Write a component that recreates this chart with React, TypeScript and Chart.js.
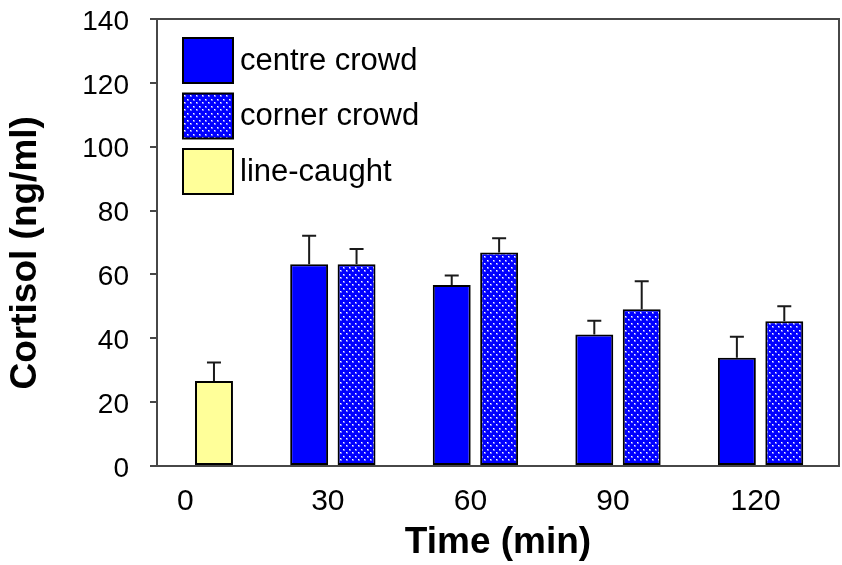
import { useEffect, useRef } from 'react';
import { Chart, registerables } from 'chart.js';

Chart.register(...registerables);

// Sampling times (min) and cortisol means / SEM (ng/ml)
const timePoints = [0, 30, 60, 90, 120];
const centreMean = [null, 63.2, 56.7, 41.2, 33.9];
const centreSem = [null, 8.9, 3.0, 4.3, 6.6];
const cornerMean = [null, 63.2, 66.9, 49.1, 45.3];
const cornerSem = [null, 4.8, 4.4, 8.8, 4.7];
const lineCaughtMean = [26.6, null, null, null, null];
const lineCaughtSem = [5.8, null, null, null, null];

const seriesLabels = ['centre crowd', 'corner crowd', 'line-caught'];

const FONT = '"Liberation Sans", Arial, Helvetica, sans-serif';
const AXIS = '#474747';

type Pt = { x: number; y: number; sem: number };

const toPoints = (mean: (number | null)[], sem: (number | null)[]): Pt[] =>
  timePoints
    .map((t, i) => ({ x: t, y: mean[i] as number, sem: sem[i] as number }))
    .filter((p) => p.y !== null && p.y !== undefined);

// Blue fill with a staggered grid of small white dots
const makeDots = (): CanvasPattern | string => {
  const c = document.createElement('canvas');
  c.width = 6;
  c.height = 7;
  const g = c.getContext('2d');
  if (!g) return '#0000ff';
  g.fillStyle = '#0000ff';
  g.fillRect(0, 0, 6, 7);
  g.fillStyle = 'rgba(255,255,255,0.45)';
  g.fillRect(1, 1, 2, 2);
  g.fillRect(4, 4, 2, 2);
  g.fillStyle = '#ffffff';
  g.fillRect(1, 1, 1, 1);
  g.fillRect(4, 4, 1, 1);
  return g.createPattern(c, 'repeat') || '#0000ff';
};

// Upper SEM whiskers with a cap
const errorBars = {
  id: 'errorBars',
  afterDatasetsDraw(chart: any) {
    const { ctx } = chart;
    const y = chart.scales.y;
    ctx.save();
    ctx.strokeStyle = '#1a1a1a';
    ctx.lineWidth = 2;
    chart.data.datasets.forEach((ds: any, d: number) => {
      const meta = chart.getDatasetMeta(d);
      meta.data.forEach((bar: any, i: number) => {
        const p = ds.data[i] as Pt;
        if (p == null || p.sem == null) return;
        const top = y.getPixelForValue(p.y + p.sem);
        ctx.beginPath();
        ctx.moveTo(bar.x, bar.y);
        ctx.lineTo(bar.x, top);
        ctx.moveTo(bar.x - 7, top);
        ctx.lineTo(bar.x + 7, top);
        ctx.stroke();
      });
    });
    ctx.restore();
  },
};

// Boxed legend in the upper-left corner of the plot
const boxLegend = {
  id: 'boxLegend',
  afterDraw(chart: any) {
    const { ctx, chartArea } = chart;
    const x0 = chartArea.left + 26;
    const y0 = chartArea.top + 19;
    ctx.save();
    ctx.font = `31px ${FONT}`;
    ctx.textBaseline = 'middle';
    ctx.textAlign = 'left';
    chart.data.datasets.forEach((ds: any, i: number) => {
      const top = y0 + i * 55.5;
      ctx.fillStyle = ds.backgroundColor;
      ctx.fillRect(x0, top, 50, 45);
      ctx.lineWidth = 2;
      ctx.strokeStyle = '#000';
      ctx.strokeRect(x0, top, 50, 45);
      ctx.fillStyle = '#000';
      ctx.fillText(ds.label, x0 + 57, top + 23);
    });
    ctx.restore();
  },
};

export default function App() {
  const canvasRef = useRef<HTMLCanvasElement | null>(null);

  useEffect(() => {
    const canvas = canvasRef.current;
    if (!canvas) return;
    const dots = makeDots();

    const chart = new Chart(canvas, {
      type: 'bar',
      data: {
        datasets: [
          {
            label: seriesLabels[0],
            data: toPoints(centreMean, centreSem) as any,
            backgroundColor: '#0000ff',
            stack: 'centre',
          },
          {
            label: seriesLabels[1],
            data: toPoints(cornerMean, cornerSem) as any,
            backgroundColor: dots as any,
            stack: 'corner',
          },
          {
            label: seriesLabels[2],
            data: toPoints(lineCaughtMean, lineCaughtSem) as any,
            backgroundColor: '#ffff99',
            stack: 'corner',
          },
        ],
      },
      options: {
        responsive: false,
        animation: false,
        layout: { padding: { top: 19, right: 3, left: 0, bottom: 0 } },
        datasets: {
          bar: {
            borderColor: '#000',
            borderWidth: 2,
            borderSkipped: false,
            categoryPercentage: 0.665,
            barPercentage: 0.8,
          },
        },
        plugins: {
          legend: { display: false },
          tooltip: { enabled: false },
        },
        scales: {
          x: {
            type: 'linear',
            stacked: true,
            offset: false,
            min: -7,
            max: 136.5,
            afterBuildTicks: (s: any) => {
              s.ticks = timePoints.map((v) => ({ value: v }));
            },
            afterFit: (s: any) => {
              s.height = 99;
              s.paddingLeft = 0;
              s.paddingRight = 0;
            },
            grid: { display: false, drawTicks: false },
            border: { display: true, color: AXIS, width: 2 },
            ticks: {
              color: '#000',
              font: { family: FONT, size: 30 },
              padding: 18,
              labelOffset: -5,
              maxRotation: 0,
              autoSkip: false,
              callback: (v: any) => String(v),
            },
            title: {
              display: true,
              text: 'Time (min)',
              color: '#000',
              font: { family: FONT, size: 37, weight: 'bold' },
              padding: { top: 0, bottom: 0 },
            },
          },
          y: {
            min: 0,
            max: 140,
            stacked: false,
            ticks: {
              stepSize: 20,
              color: '#000',
              font: { family: FONT, size: 28 },
              padding: 21,
              labelOffset: 3,
            },
            grid: {
              color: (c: any) => (c.tick && c.tick.value === 140 ? AXIS : 'rgba(0,0,0,0)'),
              lineWidth: 2,
              tickColor: AXIS,
              tickLength: 7,
              tickWidth: 2,
            },
            border: { display: true, color: AXIS, width: 2 },
            afterFit: (s: any) => {
              s.width = 157;
              s.paddingTop = 0;
              s.paddingBottom = 0;
            },
            title: {
              display: true,
              text: 'Cortisol (ng/ml)  ',
              color: '#000',
              font: { family: FONT, size: 37, weight: 'bold' },
              padding: { top: 4, bottom: 0 },
            },
          },
          yRight: {
            position: 'right',
            display: true,
            ticks: { display: false },
            grid: { display: false, drawTicks: false },
            border: { display: true, color: AXIS, width: 2 },
            afterFit: (s: any) => {
              s.width = 0;
              s.paddingTop = 0;
              s.paddingBottom = 0;
            },
          },
        },
      } as any,
      plugins: [errorBars, boxLegend],
    });

    return () => chart.destroy();
  }, []);

  return (
    <div style={{ position: 'absolute', left: 0, top: 0, width: 842, height: 565, background: '#fff' }}>
      <canvas ref={canvasRef} width={842} height={565} style={{ display: 'block' }} />
    </div>
  );
}
